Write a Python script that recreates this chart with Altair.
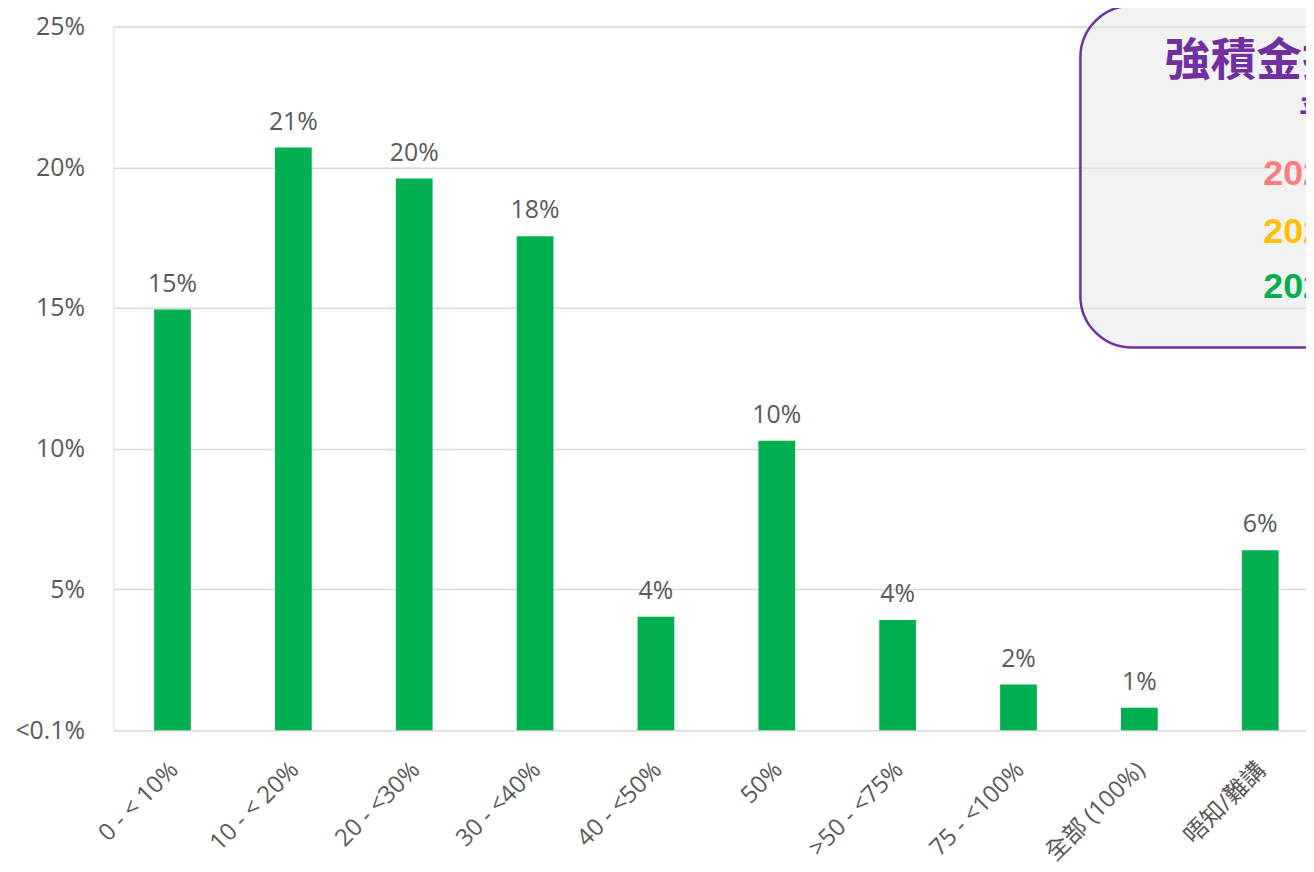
import altair as alt
import pandas as pd

categories = ["0 - < 10%", "10 - < 20%", "20 - <30%", "30 - <40%", "40 - <50%",
              "50%", ">50 - <75%", "75 - <100%", "全部 (100%)", "唔知/難講"]
values = [14.95, 20.7, 19.6, 17.55, 4.03, 10.28, 3.92, 1.62, 0.8, 6.39]
value_labels = ["15%", "21%", "20%", "18%", "4%", "10%", "4%", "2%", "1%", "6%"]
y_ticks = [0, 5, 10, 15, 20, 25]

box_title = "強積金投資比例"
box_subtitle = "平均"
box_years = ["2021", "2022", "2023"]
year_colors = ["#ff7c80", "#ffc000", "#00b050"]

FONT = "'Open Sans', 'Noto Sans CJK TC', sans-serif"
TEXT_GRAY = "#595959"
PURPLE = "#7030a0"
GREEN = "#00b050"

df = pd.DataFrame({"cat": categories, "val": values, "lab": value_labels})

x_enc = alt.X("cat:N", sort=categories, title=None,
              scale=alt.Scale(paddingInner=0.696, paddingOuter=0.282, align=0.598),
              axis=alt.Axis(labelAngle=-45, labelAlign="right", labelBaseline="middle",
                            labelPadding=36, labelOffset=2, ticks=False, domain=False,
                            grid=False, labelFont=FONT, labelFontSize=24,
                            labelColor=TEXT_GRAY, labelLimit=300))
y_enc = alt.Y("val:Q", title=None,
              scale=alt.Scale(domain=[0, 25], nice=False),
              axis=alt.Axis(values=y_ticks, ticks=False, domain=False,
                            labelExpr="datum.value == 0 ? '<0.1%' : datum.value + '%'",
                            labelPadding=29, labelFont=FONT, labelFontSize=25,
                            labelColor=TEXT_GRAY, gridColor="#d9d9d9", gridWidth=1.5))

box = alt.Chart(pd.DataFrame({"k": [0]})).mark_rect(
    fill="#e6e6e6", fillOpacity=0.5, stroke=PURPLE, strokeWidth=2.5, cornerRadius=52
).encode(x=alt.value(973), x2=alt.value(1450), y=alt.value(-21), y2=alt.value(323))

bars = alt.Chart(df).mark_bar(color=GREEN).encode(x=x_enc, y=y_enc)

labels = alt.Chart(df).mark_text(
    font=FONT, fontSize=25, color=TEXT_GRAY, baseline="alphabetic", dy=-18
).encode(x=alt.X("cat:N", sort=categories), y="val:Q", text="lab:N")

title_t = alt.Chart(pd.DataFrame({"t": [box_title]})).mark_text(
    font="'Noto Sans CJK TC', sans-serif", fontSize=46, fontWeight="bold", color=PURPLE,
    align="left", baseline="middle"
).encode(x=alt.value(1058), y=alt.value(36), text="t:N")

sub_t = alt.Chart(pd.DataFrame({"t": [box_subtitle]})).mark_text(
    font="'Noto Sans CJK TC', sans-serif", fontSize=30, fontWeight="bold", color=PURPLE,
    align="left", baseline="middle"
).encode(x=alt.value(1193), y=alt.value(86), text="t:N")

year_layers = []
for yr, col, ypos in zip(box_years, year_colors, [148, 207, 262]):
    year_layers.append(
        alt.Chart(pd.DataFrame({"t": [yr]})).mark_text(
            font="'Liberation Sans', Arial, sans-serif", fontSize=36, fontWeight="bold",
            color=col, align="left", baseline="middle"
        ).encode(x=alt.value(1157), y=alt.value(ypos), text="t:N")
    )

chart = alt.layer(box, bars, labels, title_t, sub_t, *year_layers).properties(
    width=1200, height=708,
    autosize=alt.AutoSizeParams(type="none"),
    padding={"left": 106, "top": 16, "right": 0, "bottom": 140},
).configure_view(stroke=None).configure(background="white")

chart.save("out.html", embed_options={"renderer": "svg", "actions": False})
